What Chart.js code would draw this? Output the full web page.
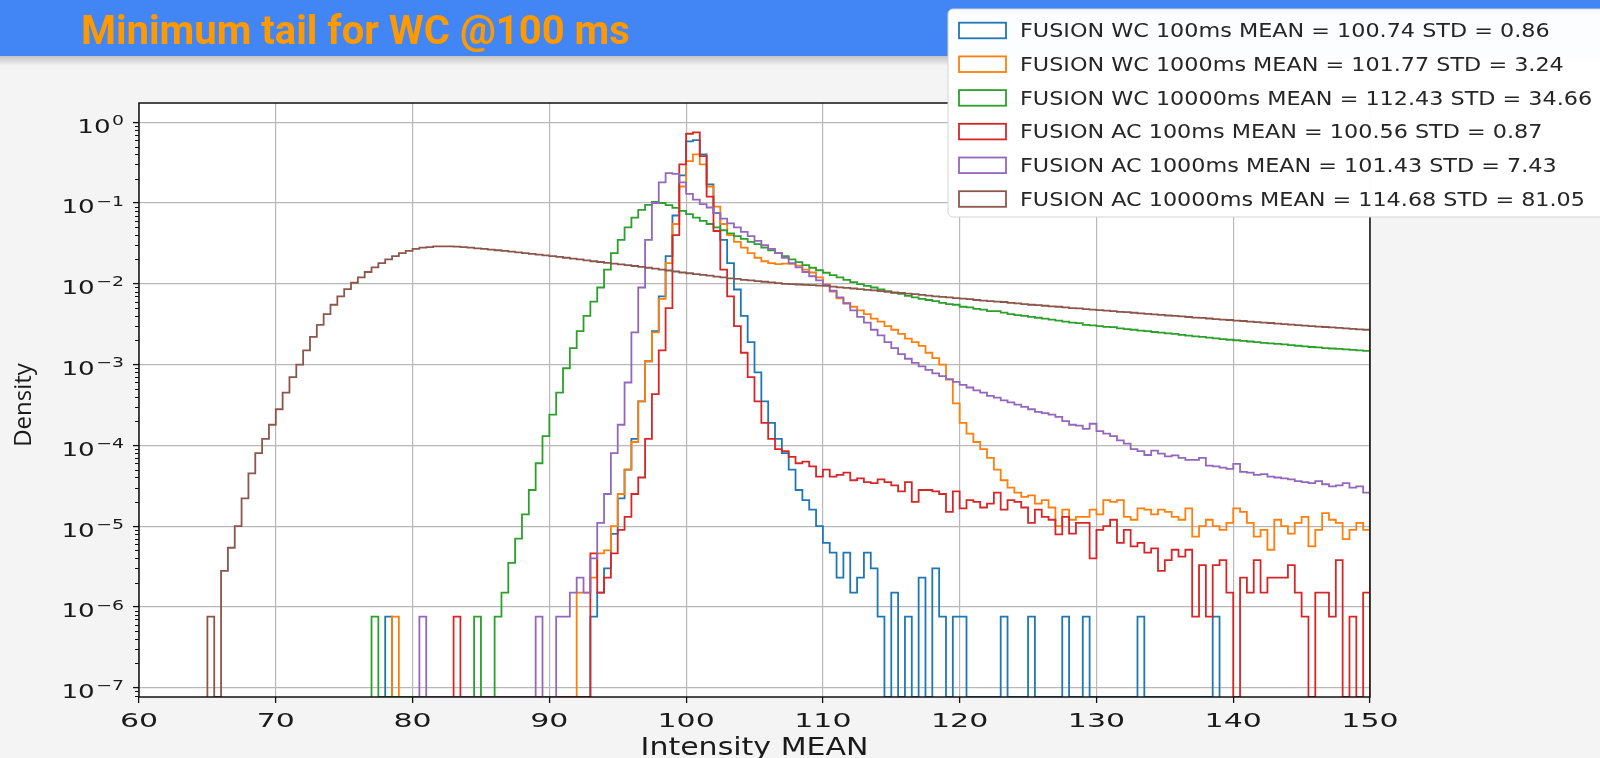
<!DOCTYPE html>
<html>
<head>
<meta charset="utf-8">
<title>Minimum tail for WC @100 ms</title>
<script src="https://cdn.jsdelivr.net/npm/chart.js"></script>
<style>
  html, body { margin: 0; padding: 0; background: #f4f4f4; }
  canvas { display: block; }
</style>
</head>
<body>
<canvas id="myChart" width="1600" height="758"></canvas>
<script>
const titleText = "Minimum tail for WC @100 ms";
const xTitle = "Intensity MEAN";
const yTitle = "Density";

const binWidth = 0.5;
const xMin = 60;
const xMax = 150;
const yMin = 7.67e-8;
const yMax = 1.73;
const xTicks = [60, 70, 80, 90, 100, 110, 120, 130, 140, 150];
const yTicks = [1e-7, 1e-6, 1e-5, 1e-4, 1e-3, 1e-2, 1e-1, 1];

const seriesLabels = [
  "FUSION WC 100ms MEAN = 100.74 STD = 0.86",
  "FUSION WC 1000ms MEAN = 101.77 STD = 3.24",
  "FUSION WC 10000ms MEAN = 112.43 STD = 34.66",
  "FUSION AC 100ms MEAN = 100.56 STD = 0.87",
  "FUSION AC 1000ms MEAN = 101.43 STD = 7.43",
  "FUSION AC 10000ms MEAN = 114.68 STD = 81.05",
];
const seriesColors = ["#1f77b4", "#ff7f0e", "#2ca02c", "#d62728", "#9467bd", "#8c564b"];

// density per 0.5 wide bin, first bin starts at the *Start value
const wc100Start = 78.0;
const wc100 = [
  7.6e-7, 0, 0, 0, 0, 0, 0, 0, 0, 0,
  0, 0, 0, 0, 0, 0, 0, 0, 0, 0,
  0, 0, 0, 0, 0, 0, 0, 0, 0, 0,
  7.6e-7, 1.5e-6, 3e-6, 8e-6, 2.2e-5, 5e-5, 1.2e-4, 3.5e-4, 1.1e-3, 2.6e-3, // 93
  7e-3, 2.2e-2, 7e-2, 0.22, 0.58, 0.6, 0.4, 0.17, 0.075, 0.035,
  0.018, 8.5e-3, 4e-3, 1.9e-3, 8e-4, 3.5e-4, 1.9e-4, 1.2e-4, 8e-5, 5e-5, // 103
  2.8e-5, 2.1e-5, 1.6e-5, 1e-5, 6.2e-6, 4.7e-6, 2.3e-6, 4.7e-6, 1.5e-6, 2.3e-6,
  4.7e-6, 3e-6, 7.6e-7, 0, 1.5e-6, 0, 7.6e-7, 0, 2.3e-6, 0, // 113
  3e-6, 7.6e-7, 0, 7.6e-7, 7.6e-7, 0, 0, 0, 0, 0,
  7.6e-7, 0, 0, 0, 7.6e-7, 0, 0, 0, 0, 7.6e-7, // 123
  0, 0, 7.6e-7, 0, 0, 0, 0, 0, 0, 0,
  7.6e-7, 0, 0, 0, 0, 0, 0, 0, 0, 0, // 133
  0, 7.6e-7,
];

const wc1000Start = 78.5;
const wc1000 = [
  7.6e-7, 0, 0, 0, 0, 0, 0, 0, 0, 0,
  0, 0, 0, 0, 0, 0, 0, 0, 0, 0,
  0, 0, 0, 0, 0, 0, 0, 1.5e-6, 1.5e-6, 2.3e-6,
  4.6e-6, 5e-6, 1e-5, 2.5e-5, 5e-5, 1.1e-4, 3.5e-4, 1.1e-3, 2.5e-3, 6.5e-3, // 93.5
  1.8e-2, 5.5e-2, 0.16, 0.33, 0.4, 0.3, 0.16, 0.09, 0.055, 0.04,
  0.033, 0.028, 0.024, 0.021, 0.019, 0.018, 0.0175, 0.0178, 0.0176, 0.0168, // 103.5
  0.015, 0.0138, 0.012, 0.0098, 0.008, 0.0066, 0.0058, 0.0052, 0.0047, 0.0042,
  0.0037, 0.0034, 0.003, 0.0027, 0.0024, 0.0021, 0.0019, 0.0017, 0.0014, 0.0012, // 113.5
  0.001, 6.5e-4, 3.3e-4, 1.9e-4, 1.4e-4, 1.1e-4, 9e-5, 7e-5, 5e-5, 3.7e-5,
  3e-5, 2.6e-5, 2.3e-5, 2.4e-5, 1.9e-5, 2.1e-5, 1.7e-5, 1.0e-5, 1.6e-5, 1.2e-5, // 123.5
  1.3e-5, 1.3e-5, 1.6e-5, 1.4e-5, 2.1e-5, 2.0e-5, 2.1e-5, 1.3e-5, 1.2e-5, 1.66e-5,
  1.6e-5, 1.4e-5, 1.6e-5, 1.5e-5, 1.3e-5, 1.2e-5, 1.66e-5, 7.4e-6, 1.0e-5, 1.2e-5, // 133.5
  1.0e-5, 9e-6, 1.1e-5, 1.66e-5, 1.5e-5, 1.1e-5, 7.4e-6, 9e-6, 5.1e-6, 1.2e-5,
  1.0e-5, 8.1e-6, 1.1e-5, 1.3e-5, 5.6e-6, 9e-6, 1.45e-5, 1.2e-5, 1.1e-5, 6.9e-6, // 143.5
  9e-6, 1.1e-5, 9e-6,
];

const wc10000Start = 77.0;
const wc10000 = [
  7.6e-7, 0, 0, 0, 0, 0, 0, 0, 0, 0,
  0, 0, 0, 0, 0, 7.6e-7, 0, 0, 7.6e-7, 1.5e-6, // 82
  3.5e-6, 7e-6, 1.4e-5, 2.8e-5, 6e-5, 1.3e-4, 2.4e-4, 4.5e-4, 9e-4, 1.6e-3,
  2.6e-3, 4.0e-3, 6e-3, 9e-3, 1.5e-2, 2.4e-2, 3.5e-2, 5.0e-2, 6.6e-2, 8.2e-2, // 92
  0.095, 0.103, 0.1, 0.094, 0.087, 0.08, 0.073, 0.066, 0.06, 0.055,
  0.05, 0.046, 0.042, 0.039, 0.036, 0.033, 0.031, 0.028, 0.026, 0.024, // 102
  0.022, 0.02, 0.0185, 0.017, 0.0158, 0.0147, 0.0137, 0.0128, 0.012, 0.0112,
  0.0105, 0.0099, 0.0094, 0.009, 0.0085, 0.0081, 0.0077, 0.0075, 0.0071, 0.0068, // 112
  0.0065, 0.0063, 0.0061, 0.0058, 0.0056, 0.0055, 0.0052, 0.0051, 0.0049, 0.0048,
  0.0046, 0.0046, 0.0044, 0.0042, 0.0041, 0.004, 0.0039, 0.0038, 0.0037, 0.0036, // 122
  0.0035, 0.0034, 0.0033, 0.00325, 0.0031, 0.00305, 0.003, 0.00293, 0.0029, 0.0028,
  0.00275, 0.0027, 0.00263, 0.0026, 0.00253, 0.00248, 0.00243, 0.0024, 0.00233, 0.00228, // 132
  0.00224, 0.0022, 0.00215, 0.00211, 0.00207, 0.00203, 0.002, 0.00197, 0.00193, 0.0019,
  0.00186, 0.00183, 0.0018, 0.00178, 0.00174, 0.00171, 0.00168, 0.00165, 0.00163, 0.0016, // 142
  0.00158, 0.00156, 0.00154, 0.00152, 0.0015, 0.00148,
];

const ac100Start = 83.0;
const ac100 = [
  7.6e-7, 0, 0, 0, 0, 0, 0, 0, 0, 0,
  0, 0, 0, 0, 0, 0, 0, 0, 0, 0,
  4.6e-6, 1.5e-6, 2.3e-6, 4.6e-6, 9e-6, 1.3e-5, 2.5e-5, 4e-5, 1.2e-4, 4.3e-4, // 93
  1.5e-3, 5e-3, 4e-2, 0.3, 0.72, 0.75, 0.38, 0.12, 0.045, 0.015,
  7e-3, 3e-3, 1.4e-3, 7e-4, 3.5e-4, 1.9e-4, 1.2e-4, 9e-5, 8.5e-5, 7.2e-5, // 103
  6e-5, 6.3e-5, 5.5e-5, 4.1e-5, 5e-5, 4.1e-5, 4.3e-5, 4.6e-5, 3.7e-5, 3.9e-5,
  3.5e-5, 3.4e-5, 3.8e-5, 3.5e-5, 3.2e-5, 2.7e-5, 3.5e-5, 2e-5, 2.8e-5, 2.8e-5, // 113
  2.7e-5, 2.5e-5, 1.5e-5, 2.7e-5, 1.66e-5, 2.1e-5, 2.0e-5, 1.7e-5, 1.9e-5, 2.6e-5,
  1.6e-5, 2.1e-5, 2.0e-5, 1.7e-5, 1.1e-5, 1.6e-5, 1.3e-5, 1.2e-5, 7.9e-6, 1.3e-5, // 123
  8.1e-6, 1.1e-5, 1.1e-5, 4e-6, 9e-6, 1e-5, 1.2e-5, 6.2e-6, 9e-6, 5.6e-6,
  6.2e-6, 4.7e-6, 5.3e-6, 2.8e-6, 3.8e-6, 5.1e-6, 4.2e-6, 5.1e-6, 7.6e-7, 3.3e-6, // 133
  7.6e-7, 3.3e-6, 3.8e-6, 1.5e-6, 0, 2.3e-6, 1.5e-6, 3.8e-6, 1.5e-6, 2.3e-6,
  2.3e-6, 2.3e-6, 3.3e-6, 1.5e-6, 7.6e-7, 0, 1.5e-6, 1.5e-6, 7.6e-7, 3.8e-6, // 143
  0, 7.6e-7, 0, 1.5e-6,
];

const ac1000Start = 80.5;
const ac1000 = [
  7.6e-7, 0, 0, 0, 0, 0, 0, 0, 0, 0,
  0, 0, 0, 0, 0, 0, 0, 7.6e-7, 0, 0,
  7.6e-7, 7.6e-7, 1.5e-6, 2.3e-6, 1.5e-6, 4e-6, 1.1e-5, 2.5e-5, 8e-5, 1.8e-4, // 90.5
  6e-4, 2.5e-3, 9e-3, 3.5e-2, 0.1, 0.18, 0.235, 0.23, 0.18, 0.13,
  0.11, 0.097, 0.088, 0.075, 0.064, 0.056, 0.05, 0.044, 0.039, 0.034, // 100.5
  0.03, 0.027, 0.024, 0.021, 0.018, 0.016, 0.014, 0.0124, 0.011, 0.0097,
  0.0082, 0.0068, 0.0057, 0.0047, 0.0039, 0.0033, 0.0027, 0.0023, 0.0019, 0.0016, // 110.5
  0.00135, 0.00118, 0.00105, 0.00095, 0.00086, 0.00078, 0.00072, 0.00066, 0.00061, 0.00056,
  5.2e-4, 4.8e-4, 4.5e-4, 4.1e-4, 3.9e-4, 3.6e-4, 3.4e-4, 3.2e-4, 3.0e-4, 2.8e-4, // 120.5
  2.6e-4, 2.5e-4, 2.4e-4, 2.25e-4, 2.0e-4, 1.8e-4, 1.75e-4, 1.6e-4, 1.85e-4, 1.5e-4,
  1.4e-4, 1.3e-4, 1.15e-4, 1.05e-4, 9e-5, 8.5e-5, 7.6e-5, 8.6e-5, 7.9e-5, 7.3e-5, // 130.5
  7.5e-5, 7e-5, 6.6e-5, 6.6e-5, 7e-5, 5.6e-5, 5.5e-5, 5.3e-5, 5.1e-5, 5.9e-5,
  4.7e-5, 4.6e-5, 4.3e-5, 4.4e-5, 4.1e-5, 4.0e-5, 3.9e-5, 3.8e-5, 3.6e-5, 3.5e-5, // 140.5
  3.4e-5, 3.6e-5, 3.3e-5, 3.1e-5, 3.2e-5, 3.4e-5, 3.0e-5, 3.1e-5, 2.6e-5,
];

const ac10000Start = 65.0;
const ac10000 = [
  7.6e-7, 0, 2.8e-6, 5.4e-6, 1.0e-5, 2.2e-5, 4.5e-5, 8e-5, 1.2e-4, 1.8e-4,
  2.8e-4, 4.5e-4, 7e-4, 1.0e-3, 1.5e-3, 2.2e-3, 3.1e-3, 4.2e-3, 5.5e-3, 7e-3, // 70
  8.6e-3, 1.03e-2, 1.2e-2, 1.4e-2, 1.6e-2, 1.8e-2, 2.0e-2, 2.2e-2, 2.4e-2, 2.55e-2,
  2.7e-2, 2.8e-2, 2.85e-2, 2.9e-2, 2.9e-2, 2.9e-2, 2.88e-2, 2.85e-2, 2.8e-2, 2.75e-2, // 80
  2.7e-2, 2.65e-2, 2.6e-2, 2.55e-2, 2.5e-2, 2.45e-2, 2.4e-2, 2.35e-2, 2.3e-2, 2.25e-2,
  2.2e-2, 2.15e-2, 2.1e-2, 2.05e-2, 2.0e-2, 1.95e-2, 1.9e-2, 1.86e-2, 1.82e-2, 1.78e-2, // 90
  1.74e-2, 1.7e-2, 1.66e-2, 1.62e-2, 1.58e-2, 1.54e-2, 1.5e-2, 1.46e-2, 1.42e-2, 1.38e-2,
  1.35e-2, 1.32e-2, 1.29e-2, 1.26e-2, 1.23e-2, 1.2e-2, 1.17e-2, 1.15e-2, 1.12e-2, 1.1e-2, // 100
  1.08e-2, 1.06e-2, 1.04e-2, 1.02e-2, 1.0e-2, 9.9e-3, 9.8e-3, 9.7e-3, 9.6e-3, 9.5e-3,
  9.4e-3, 9.2e-3, 9.05e-3, 8.9e-3, 8.75e-3, 8.6e-3, 8.4e-3, 8.3e-3, 8.1e-3, 7.95e-3, // 110
  7.8e-3, 7.7e-3, 7.55e-3, 7.45e-3, 7.3e-3, 7.15e-3, 7.0e-3, 6.9e-3, 6.8e-3, 6.65e-3,
  6.55e-3, 6.45e-3, 6.3e-3, 6.2e-3, 6.1e-3, 6.0e-3, 5.95e-3, 5.8e-3, 5.72e-3, 5.6e-3, // 120
  5.5e-3, 5.45e-3, 5.35e-3, 5.25e-3, 5.2e-3, 5.1e-3, 5.0e-3, 4.95e-3, 4.85e-3, 4.8e-3,
  4.72e-3, 4.65e-3, 4.58e-3, 4.5e-3, 4.45e-3, 4.38e-3, 4.3e-3, 4.25e-3, 4.18e-3, 4.12e-3, // 130
  4.05e-3, 4.0e-3, 3.95e-3, 3.88e-3, 3.82e-3, 3.78e-3, 3.72e-3, 3.66e-3, 3.6e-3, 3.56e-3,
  3.5e-3, 3.46e-3, 3.4e-3, 3.36e-3, 3.3e-3, 3.27e-3, 3.22e-3, 3.17e-3, 3.12e-3, 3.08e-3, // 140
  3.04e-3, 3.0e-3, 2.95e-3, 2.92e-3, 2.88e-3, 2.84e-3, 2.8e-3, 2.77e-3, 2.73e-3, 2.7e-3,
];

const seriesStarts = [wc100Start, wc1000Start, wc10000Start, ac100Start, ac1000Start, ac10000Start];
const seriesValues = [wc100, wc1000, wc10000, ac100, ac1000, ac10000];

// step outline of a histogram, empty bins sit on the bottom of the log axis
function histPoints(start, values) {
  const pts = [{ x: start, y: yMin }];
  values.forEach((v, i) => pts.push({ x: start + i * binWidth, y: v > 0 ? v : yMin }));
  const last = values[values.length - 1];
  const end = start + values.length * binWidth;
  pts.push({ x: end, y: last > 0 ? last : yMin });
  pts.push({ x: end, y: yMin });
  return pts;
}

function stretchedText(c, text, x, y, sx, align) {
  c.save();
  c.translate(x, y);
  c.scale(sx, 1);
  c.textAlign = align;
  c.fillText(text, 0, 0);
  c.restore();
}

const slidePlugin = {
  id: "slide",
  beforeDraw(chart) {
    const c = chart.ctx;
    const a = chart.chartArea;
    c.save();
    c.fillStyle = "#f4f4f4";
    c.fillRect(0, 0, chart.width, chart.height);
    const g = c.createLinearGradient(0, 55, 0, 66);
    g.addColorStop(0, "rgba(0,0,0,0.22)");
    g.addColorStop(1, "rgba(0,0,0,0)");
    c.fillStyle = g;
    c.fillRect(0, 55, chart.width, 11);
    c.fillStyle = "#4285f4";
    c.fillRect(0, 0, chart.width, 56);
    c.fillStyle = "#ff9900";
    c.font = "bold 40px Roboto";
    c.textBaseline = "alphabetic";
    c.fillText(titleText, 81, 44);
    c.fillStyle = "#ffffff";
    c.fillRect(a.left, a.top, a.right - a.left, a.bottom - a.top);
    c.restore();
  },
  afterDatasetsDraw(chart) {
    const c = chart.ctx;
    const a = chart.chartArea;
    const xs = chart.scales.x;
    const ys = chart.scales.y;
    c.save();
    c.strokeStyle = "#111";
    c.lineWidth = 1.5;
    c.strokeRect(a.left, a.top, a.right - a.left, a.bottom - a.top);
    // minor log ticks
    c.lineWidth = 1;
    c.beginPath();
    for (let e = -8; e <= 0; e++) {
      for (let k = 2; k <= 9; k++) {
        const v = k * Math.pow(10, e);
        if (v < yMin || v > yMax) continue;
        const py = Math.round(ys.getPixelForValue(v)) + 0.5;
        c.moveTo(a.left - 4, py);
        c.lineTo(a.left, py);
      }
    }
    c.stroke();

    c.fillStyle = "#1a1a1a";
    c.textBaseline = "alphabetic";
    // y tick labels 10^n
    ys.ticks.forEach((t) => {
      const py = ys.getPixelForValue(t.value);
      const exp = String(Math.round(Math.log10(t.value))).replace("-", "\u2212");
      c.font = "19px 'DejaVu Sans'";
      const wb = c.measureText("10").width;
      c.font = "13.7px 'DejaVu Sans'";
      const we = c.measureText(exp).width;
      const sx = 1.38;
      const x0 = 124 - (wb + 1 + we) * sx;
      c.save();
      c.translate(x0, py + 10.4);
      c.scale(sx, 1);
      c.font = "19px 'DejaVu Sans'";
      c.fillText("10", 0, 0);
      c.font = "13.7px 'DejaVu Sans'";
      c.fillText(exp, wb + 1, -7.7);
      c.restore();
    });
    // x tick labels
    c.font = "20px 'DejaVu Sans'";
    xs.ticks.forEach((t) => {
      stretchedText(c, String(t.value), xs.getPixelForValue(t.value), 727, 1.5, "center");
    });
    // axis titles
    c.font = "24px 'DejaVu Sans'";
    stretchedText(c, xTitle, (a.left + a.right) / 2, 755, 1.25, "center");
    c.save();
    c.translate(31, 405);
    c.rotate(-Math.PI / 2);
    c.font = "24px 'Open Sans'";
    c.textAlign = "center";
    c.fillText(yTitle, 0, 0);
    c.restore();
    c.restore();
  },
  afterDraw(chart) {
    const c = chart.ctx;
    c.save();
    c.fillStyle = "rgba(255,255,255,0.98)";
    c.strokeStyle = "#d4d4d4";
    c.lineWidth = 1;
    c.beginPath();
    c.roundRect(948, 9, 700, 208, 5);
    c.fill();
    c.stroke();
    chart.data.datasets.forEach((ds, i) => {
      const base = 37.3 + i * 33.7;
      c.fillStyle = "#ffffff";
      c.fillRect(959, base - 14.6, 47, 15.6);
      c.strokeStyle = ds.borderColor;
      c.lineWidth = 1.8;
      c.strokeRect(959, base - 14.6, 47, 15.6);
      c.fillStyle = "#262626";
      c.font = "20px 'DejaVu Sans'";
      stretchedText(c, ds.label, 1020, base, 1.115, "left");
    });
    c.restore();
  },
};

const ctx = document.getElementById("myChart").getContext("2d");
const myChart = new Chart(ctx, {
  type: "line",
  data: {
    datasets: seriesValues.map((vals, i) => ({
      label: seriesLabels[i],
      data: histPoints(seriesStarts[i], vals),
      borderColor: seriesColors[i],
      backgroundColor: seriesColors[i],
      borderWidth: 1.8,
      pointRadius: 0,
      fill: false,
      stepped: "before",
      tension: 0,
      order: seriesValues.length - i,
    })),
  },
  options: {
    responsive: false,
    animation: false,
    events: [],
    layout: {
      padding: { left: 0, top: 103, right: 230, bottom: 0 },
    },
    plugins: {
      legend: { display: false },
      tooltip: { enabled: false },
    },
    scales: {
      x: {
        type: "linear",
        min: xMin,
        max: xMax,
        afterBuildTicks: (scale) => {
          scale.ticks = xTicks.map((v) => ({ value: v }));
        },
        afterFit: (scale) => {
          scale.height = 61;
        },
        grid: {
          color: "#b8b8b8",
          lineWidth: 1.2,
          tickColor: "#111",
          tickLength: 6,
          tickWidth: 1.3,
        },
        border: { display: false },
        ticks: { display: false },
      },
      y: {
        type: "logarithmic",
        min: yMin,
        max: yMax,
        afterBuildTicks: (scale) => {
          scale.ticks = yTicks.map((v) => ({ value: v }));
        },
        afterFit: (scale) => {
          scale.width = 139;
        },
        grid: {
          color: "#b8b8b8",
          lineWidth: 1.2,
          tickColor: "#111",
          tickLength: 6,
          tickWidth: 1.3,
        },
        border: { display: false },
        ticks: { display: false },
      },
    },
  },
  plugins: [slidePlugin],
});
</script>
</body>
</html>
